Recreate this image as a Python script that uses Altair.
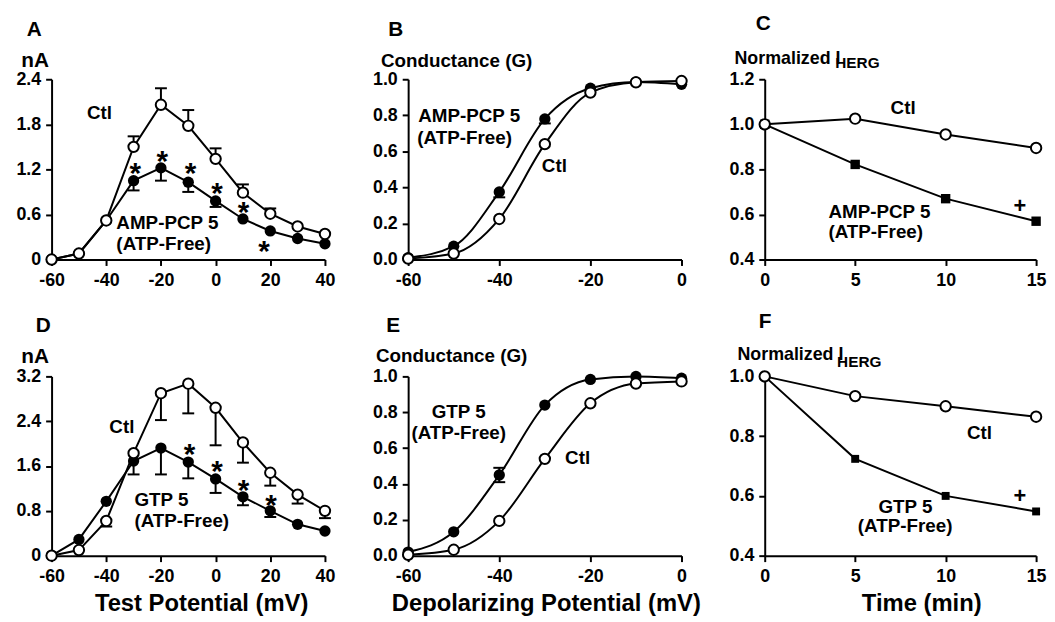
import altair as alt
import pandas as pd

FONT = "Liberation Sans"

# ---------------- Panel A : I-V, AMP-PCP 5 (ATP-free) vs Ctl ----------------
A_V = [-60, -50, -40, -30, -20, -10, 0, 10, 20, 30, 40]
A_CTL = [0.0, 0.08, 0.52, 1.50, 2.06, 1.78, 1.34, 0.89, 0.61, 0.44, 0.34]
A_TRT = [0.0, 0.08, 0.52, 1.05, 1.22, 1.03, 0.78, 0.54, 0.38, 0.28, 0.21]
A_CTL_ERR_V = [-30, -20, -10, 0, 10, 20]
A_CTL_ERR = [1.64, 2.28, 1.99, 1.48, 1.00, 0.68]
A_TRT_ERR_V = [-30, -20, -10, 0]
A_TRT_ERR = [0.92, 1.05, 0.90, 0.70]
A_STAR_X = [-29.4, -19.5, -9.2, 0.5, 10.2, 17.7]
A_STAR_Y = [1.24, 1.40, 1.24, 0.98, 0.72, 0.20]
A_LABELS = [("Ctl", -42.5, 1.95, "center"),
            ("AMP-PCP 5", -36.3, 0.49, "left"),
            ("(ATP-Free)", -36.3, 0.21, "left")]

# ---------------- Panel B : conductance, AMP-PCP 5 vs Ctl ----------------
B_V = [-60, -50, -40, -30, -20, -10, 0]
B_CTL = [0.005, 0.033, 0.225, 0.64, 0.926, 0.983, 0.99]
B_TRT = [0.01, 0.074, 0.375, 0.78, 0.95, 0.985, 0.972]
B_TRT_ERR_V = [-40, -30]
B_TRT_ERR = [0.345, 0.755]
B_LABELS = [("AMP-PCP 5", -57.8, 0.797, "left"),
            ("(ATP-Free)", -58.0, 0.673, "left"),
            ("Ctl", -27.9, 0.517, "center")]

# ---------------- Panel C : time course, AMP-PCP 5 vs Ctl ----------------
C_T = [0, 5, 10, 15]
C_CTL = [1.0, 1.025, 0.955, 0.895]
C_TRT = [1.0, 0.822, 0.67, 0.57]
C_PLUS_X = [14.1]
C_PLUS_Y = [0.638]
C_LABELS = [("Ctl", 7.65, 1.072, "center"),
            ("AMP-PCP 5", 3.52, 0.609, "left"),
            ("(ATP-Free)", 3.52, 0.52, "left")]
C_SUB = [("HERG", 3.9, 1.248)]

# ---------------- Panel D : I-V, GTP 5 (ATP-free) vs Ctl ----------------
D_V = [-60, -50, -40, -30, -20, -10, 0, 10, 20, 30, 40]
D_CTL = [0.0, 0.10, 0.62, 1.83, 2.90, 3.07, 2.64, 2.02, 1.48, 1.09, 0.80]
D_TRT = [0.0, 0.29, 0.97, 1.69, 1.92, 1.67, 1.37, 1.05, 0.80, 0.56, 0.44]
D_CTL_ERR_V = [-40, -30, -20, -10, 0, 10, 20, 30, 40]
D_CTL_ERR = [0.52, 1.45, 2.42, 2.54, 1.97, 1.66, 1.25, 0.93, 0.67]
D_TRT_ERR_V = [-20, -10, 0, 10, 20]
D_TRT_ERR = [1.45, 1.38, 1.12, 0.90, 0.69]
D_STAR_X = [-9.5, 0.5, 10.2, 20.3]
D_STAR_Y = [1.94, 1.64, 1.29, 1.02]
D_LABELS = [("Ctl", -34.3, 2.30, "center"),
            ("GTP 5", -29.7, 0.99, "left"),
            ("(ATP-Free)", -29.7, 0.61, "left")]

# ---------------- Panel E : conductance, GTP 5 vs Ctl ----------------
E_V = [-60, -50, -40, -30, -20, -10, 0]
E_CTL = [0.005, 0.033, 0.194, 0.54, 0.85, 0.96, 0.972]
E_TRT = [0.02, 0.133, 0.45, 0.84, 0.983, 1.0, 0.99]
E_TRT_ERR_V = [-40, -40]
E_TRT_ERR = [0.41, 0.49]
E_LABELS = [("GTP 5", -48.9, 0.80, "center"),
            ("(ATP-Free)", -48.9, 0.683, "center"),
            ("Ctl", -22.8, 0.544, "center")]

# ---------------- Panel F : time course, GTP 5 vs Ctl ----------------
F_T = [0, 5, 10, 15]
F_CTL = [1.0, 0.934, 0.90, 0.865]
F_TRT = [1.0, 0.724, 0.60, 0.548]
F_PLUS_X = [14.1]
F_PLUS_Y = [0.60]
F_LABELS = [("Ctl", 11.87, 0.81, "center"),
            ("GTP 5", 7.78, 0.562, "center"),
            ("(ATP-Free)", 7.76, 0.498, "center")]
F_SUB = [("HERG", 4.0, 1.033)]

ZERO_1F = "datum.value == 0 ? '0' : format(datum.value, '.1f')"
ONE_F = "format(datum.value, '.1f')"


def errs_from(xs, means, err_x, err_b):
    m = dict(zip(xs, means))
    return [(v, m[v], b) for v, b in zip(err_x, err_b)]


def build_panel(letter, title_dy, width, height,
                xdom, xvals, ydom, yvals, ylabel_expr,
                ytitle, ytitle_size, ytitle_x, ytitle_y,
                xtitle, xtitle_x,
                xs, ctl, trt, trt_shape, trt_size, interp,
                errs, labels, title_dx, stars_x=None, stars_y=None,
                plus_x=None, plus_y=None, subs=None):
    xscale = alt.Scale(domain=xdom, nice=False, zero=False)
    yscale = alt.Scale(domain=ydom, nice=False, zero=False)
    xkw = dict(values=xvals, labelExpr="datum.value + ''")
    if xtitle:
        xkw.update(title=xtitle, titleFontSize=24, titlePadding=6, titleX=xtitle_x)
    else:
        xkw.update(title=None)
    xaxis = alt.Axis(**xkw)
    yaxis = alt.Axis(values=yvals, labelExpr=ylabel_expr, title=ytitle,
                     titleFontSize=ytitle_size, titleAngle=0, titleAlign="left",
                     titleBaseline="alphabetic", titleX=ytitle_x, titleY=ytitle_y)
    X = alt.X("x:Q", scale=xscale, axis=xaxis)
    Y = alt.Y("y:Q", scale=yscale, axis=yaxis)

    ctl_df = pd.DataFrame({"x": xs, "y": ctl})
    trt_df = pd.DataFrame({"x": xs, "y": trt})
    layers = []
    if errs:
        edf = pd.DataFrame(errs, columns=["x", "y", "y2"])
        layers.append(alt.Chart(edf).mark_rule(color="black", strokeWidth=2)
                      .encode(x=X, y=Y, y2="y2:Q"))
        layers.append(alt.Chart(edf).mark_tick(orient="horizontal", size=12, thickness=2,
                                               color="black", opacity=1)
                      .encode(x=X, y=alt.Y("y2:Q", scale=yscale, axis=yaxis)))
    lkw = dict(color="black", strokeWidth=2)
    if interp:
        lkw["interpolate"] = interp
    layers.append(alt.Chart(trt_df).mark_line(**lkw).encode(x=X, y=Y))
    layers.append(alt.Chart(ctl_df).mark_line(**lkw).encode(x=X, y=Y))
    layers.append(alt.Chart(trt_df).mark_point(shape=trt_shape, filled=True, color="black",
                                               size=trt_size, opacity=1).encode(x=X, y=Y))
    layers.append(alt.Chart(ctl_df).mark_point(shape="circle", filled=True, fill="white",
                                               stroke="black", strokeWidth=2, size=110,
                                               opacity=1).encode(x=X, y=Y))
    ldf = pd.DataFrame(labels, columns=["t", "x", "y", "a"])
    for a in ["left", "center"]:
        sub = ldf[ldf.a == a]
        if len(sub):
            layers.append(alt.Chart(sub).mark_text(font=FONT, fontSize=19, fontWeight="bold",
                                                   color="black", align=a, baseline="middle")
                          .encode(x=X, y=Y, text="t:N"))
    if stars_x:
        sdf = pd.DataFrame({"x": stars_x, "y": stars_y, "t": ["*"] * len(stars_x)})
        layers.append(alt.Chart(sdf).mark_text(font=FONT, fontSize=30, fontWeight="bold",
                                               color="black", align="center",
                                               baseline="middle", dy=8)
                      .encode(x=X, y=Y, text="t:N"))
    if plus_x:
        pdf = pd.DataFrame({"x": plus_x, "y": plus_y, "t": ["+"] * len(plus_x)})
        layers.append(alt.Chart(pdf).mark_text(font=FONT, fontSize=22, fontWeight="bold",
                                               color="black", align="center",
                                               baseline="middle")
                      .encode(x=X, y=Y, text="t:N"))
    if subs:
        bdf = pd.DataFrame(subs, columns=["t", "x", "y"])
        layers.append(alt.Chart(bdf).mark_text(font=FONT, fontSize=15.5, fontWeight="bold",
                                               color="black", align="left",
                                               baseline="alphabetic")
                      .encode(x=X, y=Y, text="t:N"))
    return alt.layer(*layers).properties(
        width=width, height=height,
        title=alt.TitleParams(text=letter, anchor="start", frame="group", dx=title_dx,
                              dy=title_dy, offset=0, fontSize=21, font=FONT,
                              fontWeight="bold", color="black", baseline="alphabetic"))


pA = build_panel("A", 7, 276, 182, [-60, 40], [-60, -40, -20, 0, 20, 40],
                 [0, 2.4], [0, 0.6, 1.2, 1.8, 2.4], ZERO_1F,
                 "nA", 21, -31, -13, None, None,
                 A_V, A_CTL, A_TRT, "circle", 130, None,
                 errs_from(A_V, A_CTL, A_CTL_ERR_V, A_CTL_ERR) +
                 errs_from(A_V, A_TRT, A_TRT_ERR_V, A_TRT_ERR),
                 A_LABELS, -25, A_STAR_X, A_STAR_Y)

pB = build_panel("B", 5, 276, 182, [-60, 0], [-60, -40, -20, 0],
                 [0, 1.0], [0, 0.2, 0.4, 0.6, 0.8, 1.0], ONE_F,
                 "Conductance (G)", 19, -28, -13, None, None,
                 B_V, B_CTL, B_TRT, "circle", 130, "monotone",
                 errs_from(B_V, B_TRT, B_TRT_ERR_V, B_TRT_ERR),
                 B_LABELS, -20)

pC = build_panel("C", 1, 274, 182, [0, 15], [0, 5, 10, 15],
                 [0.4, 1.2], [0.4, 0.6, 0.8, 1.0, 1.2], ONE_F,
                 "Normalized I", 18, -31, -16, None, None,
                 C_T, C_CTL, C_TRT, "square", 90, None,
                 [], C_LABELS, -9, plus_x=C_PLUS_X, plus_y=C_PLUS_Y, subs=C_SUB)

pD = build_panel("D", 7, 276, 181, [-60, 40], [-60, -40, -20, 0, 20, 40],
                 [0, 3.2], [0, 0.8, 1.6, 2.4, 3.2], ZERO_1F,
                 "nA", 21, -31, -14, "Test Potential (mV)", 151,
                 D_V, D_CTL, D_TRT, "circle", 130, None,
                 errs_from(D_V, D_CTL, D_CTL_ERR_V, D_CTL_ERR) +
                 errs_from(D_V, D_TRT, D_TRT_ERR_V, D_TRT_ERR),
                 D_LABELS, -16, D_STAR_X, D_STAR_Y)

pE = build_panel("E", 6, 276, 181, [-60, 0], [-60, -40, -20, 0],
                 [0, 1.0], [0, 0.2, 0.4, 0.6, 0.8, 1.0], ONE_F,
                 "Conductance (G)", 19, -33, -15, "Depolarizing Potential (mV)", 139,
                 E_V, E_CTL, E_TRT, "circle", 130, "monotone",
                 errs_from(E_V, E_TRT, E_TRT_ERR_V, E_TRT_ERR),
                 E_LABELS, -22)

pF = build_panel("F", 3, 274, 181, [0, 15], [0, 5, 10, 15],
                 [0.4, 1.0], [0.4, 0.6, 0.8, 1.0], ONE_F,
                 "Normalized I", 18, -28, -17, "Time (min)", 158,
                 F_T, F_CTL, F_TRT, "square", 64, None,
                 [], F_LABELS, -6, plus_x=F_PLUS_X, plus_y=F_PLUS_Y, subs=F_SUB)

chart = alt.concat(pA, pB, pC, pD, pE, pF, columns=3,
                   spacing={"row": 118, "column": 84}, bounds="flush").properties(
    padding={"left": 7, "top": 2, "right": 0, "bottom": 0}
).configure_view(stroke=None).configure_axis(
    domainColor="black", domainWidth=2, tickColor="black", tickWidth=2, tickSize=6,
    labelFont=FONT, labelFontSize=18, labelFontWeight="bold", labelColor="black",
    labelFlush=False, labelOverlap=False, grid=False,
    titleFont=FONT, titleFontWeight="bold", titleColor="black"
).configure_axisX(labelPadding=6).configure_axisY(labelPadding=5)

chart.save("out.html", embed_options={"renderer": "svg", "actions": False})
